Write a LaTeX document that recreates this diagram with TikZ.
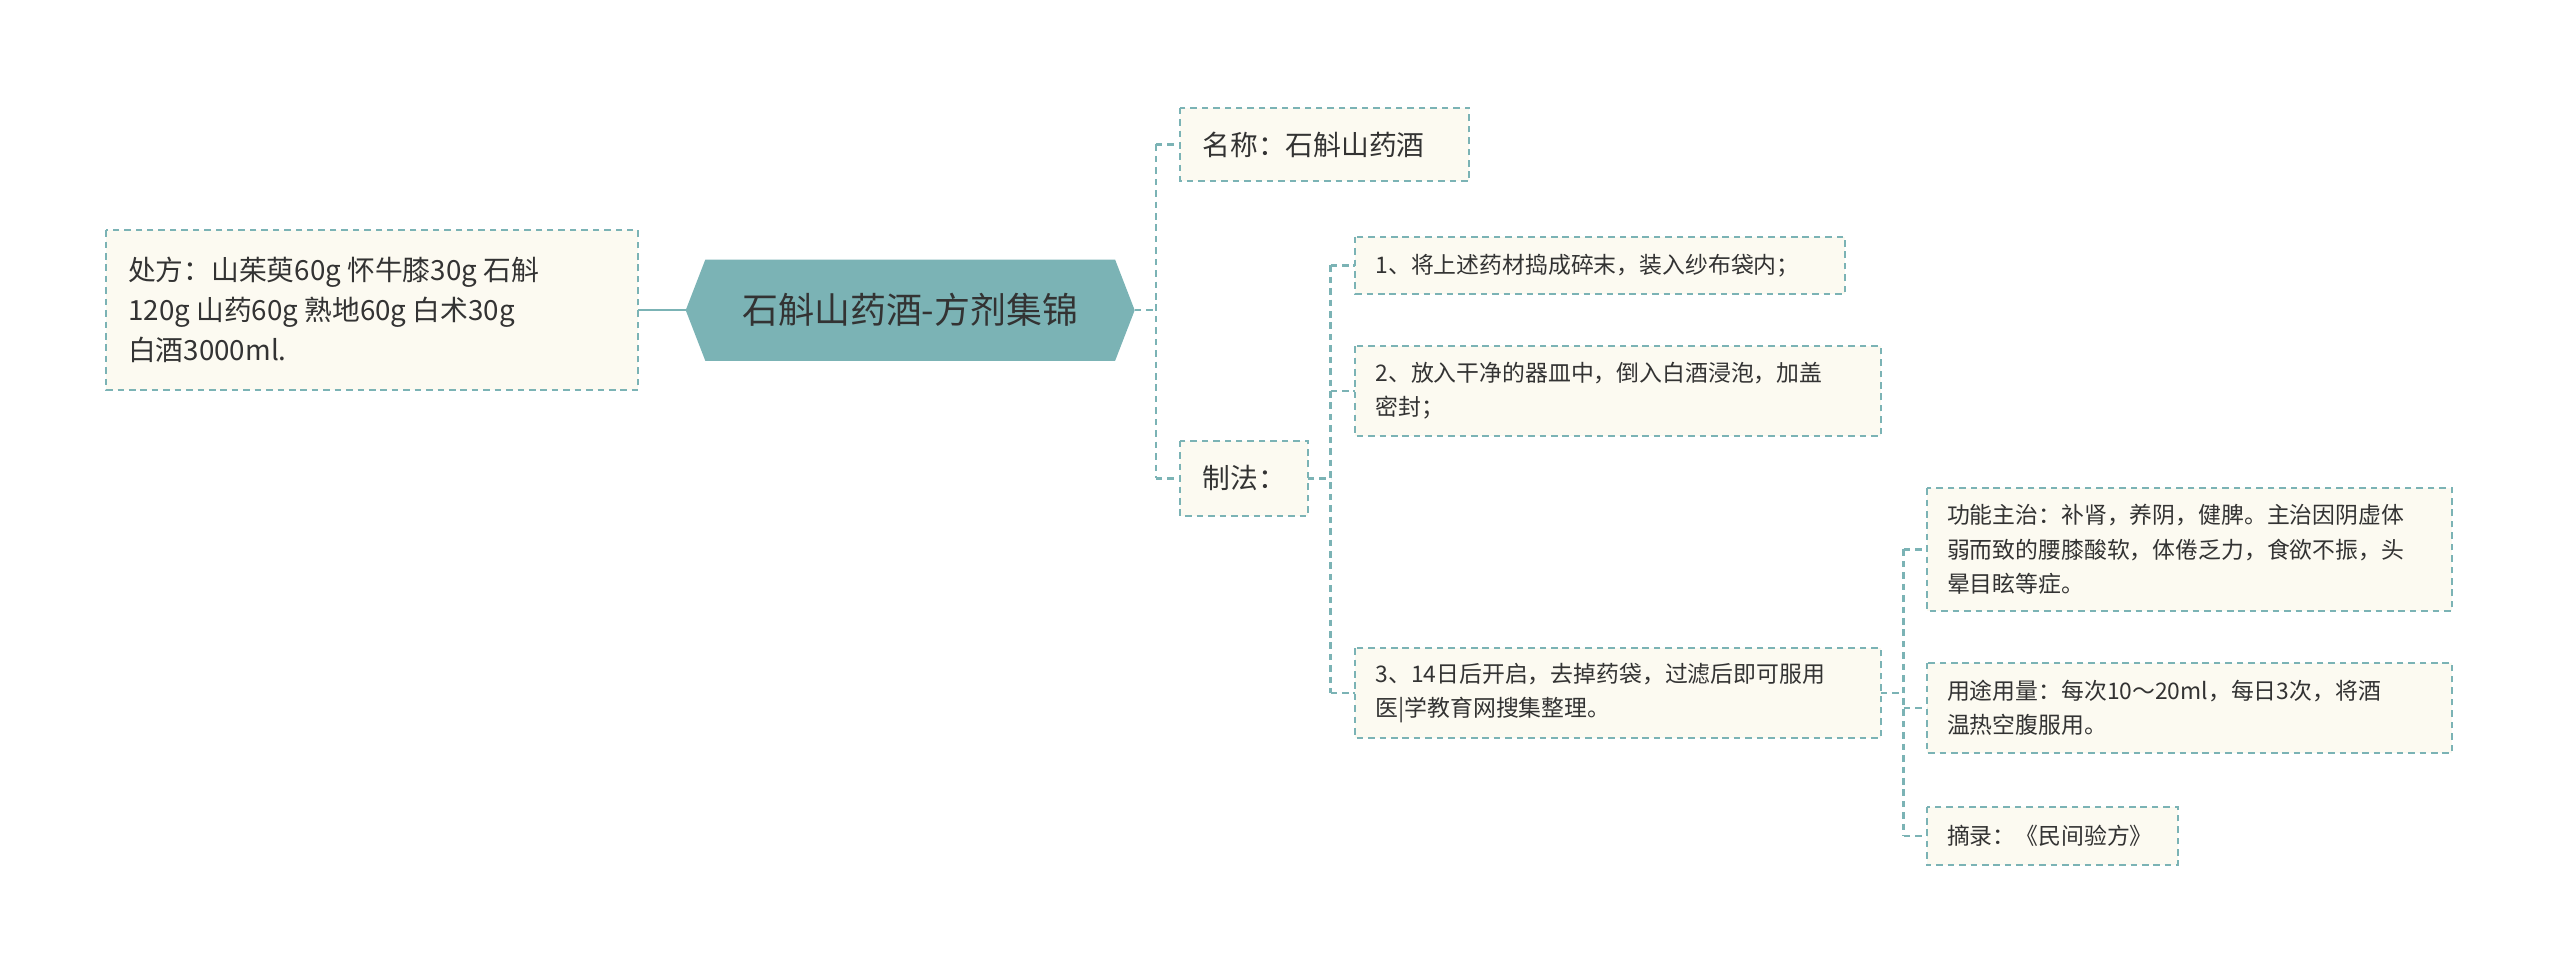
\documentclass[tikz,border=0pt]{standalone}
\usepackage{fontspec}
\newfontfamily\cjk{Noto Sans CJK SC}
\definecolor{teal1}{HTML}{7BB3B5}
\definecolor{boxbg}{HTML}{FCFAF1}
\definecolor{txt}{HTML}{333333}
\begin{document}
\begin{tikzpicture}[x=1pt,y=-1pt,
  leaf/.style={draw=teal1,dashed,dash pattern=on 4pt off 3pt,line width=1.2pt,fill=boxbg,align=left,anchor=north west,inner sep=0pt,text=txt,font=\cjk},
  conn/.style={draw=teal1,line width=1.5pt,dash pattern=on 4pt off 3pt}]
\useasboundingbox (0,0) rectangle (1568,595);
% center hexagon
\fill[teal1] (420,190) -- (432,159) -- (683,159) -- (695,190) -- (683,221) -- (432,221) -- cycle;
\node[font=\cjk\fontsize{22}{26}\selectfont,text=txt] (c) at (557.5,190) {石斛山药酒-方剂集锦};
\coordinate (cl) at (420,190);
\coordinate (cr) at (695,190);
% left
\draw[leaf] (65,141) rectangle (391,239);
\node[font=\cjk\fontsize{17}{24.5}\selectfont,text=txt,align=left,anchor=west] (l) at (75,190) {处方：山茱萸60g 怀牛膝30g 石斛\\120g 山药60g 熟地60g 白术30g\\白酒3000ml.};
\coordinate (lr) at (391,190);
\draw[teal1,line width=1.5pt] (cl) -- (lr);
% name
\draw[leaf] (723,66) rectangle (900,111);
\node[font=\cjk\fontsize{17}{22}\selectfont,text=txt,anchor=west] (n) at (733,88.5) {名称：石斛山药酒};
\draw[leaf] (723,270) rectangle (801,316);
\node[font=\cjk\fontsize{17}{22}\selectfont,text=txt,anchor=west] (z) at (733,293) {制法：};
\draw[conn] (cr) -- (708,190) (708,88.5) -- (708,293) (708,88.5) -- (723,88.5) (708,293) -- (723,293);
% steps
\tikzset{small/.style={font=\cjk\fontsize{14}{21}\selectfont,text=txt,align=left,anchor=west}}
\draw[leaf] (830,145) rectangle (1130,180);
\node[small] (s1) at (839,162.5) {1、将上述药材捣成碎末，装入纱布袋内；};
\draw[leaf] (830,212) rectangle (1152,267);
\node[small] (s2) at (839,239.5) {2、放入干净的器皿中，倒入白酒浸泡，加盖\\密封；};
\draw[leaf] (830,397) rectangle (1152,452);
\node[small] (s3) at (839,424.5) {3、14日后开启，去掉药袋，过滤后即可服用\\医|学教育网搜集整理。};
\draw[conn] (801,293) -- (815,293) (815,162.5) -- (815,424.5) (815,162.5) -- (830,162.5) (815,239.5) -- (830,239.5) (815,424.5) -- (830,424.5);
% sub
\draw[leaf] (1180,299) rectangle (1502,374);
\node[small] (g) at (1189,336.5) {功能主治：补肾，养阴，健脾。主治因阴虚体\\弱而致的腰膝酸软，体倦乏力，食欲不振，头\\晕目眩等症。};
\draw[leaf] (1180,406) rectangle (1502,461);
\node[small] (y) at (1189,433.5) {用途用量：每次10～20ml，每日3次，将酒\\温热空腹服用。};
\draw[leaf] (1180,494) rectangle (1334,530);
\node[small] (e) at (1189,512) {摘录：《民间验方》};
\draw[conn] (1152,424.5) -- (1166,424.5) (1166,336.5) -- (1166,512) (1166,336.5) -- (1180,336.5) (1166,433.5) -- (1180,433.5) (1166,512) -- (1180,512);
\end{tikzpicture}
\end{document}
